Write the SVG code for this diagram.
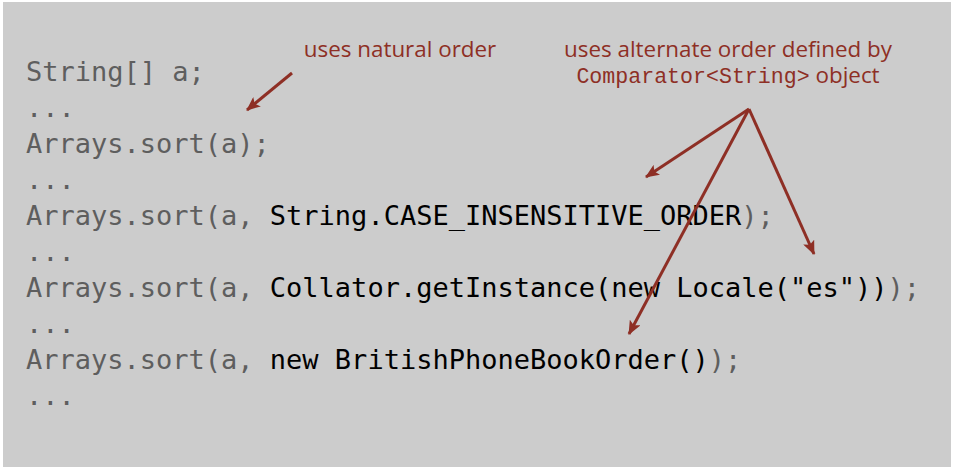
<svg xmlns="http://www.w3.org/2000/svg" width="953" height="470" viewBox="0 0 953 470">
<style>
.code{font-family:"DejaVu Sans Mono","Liberation Mono",monospace;font-size:27px;fill:#5e5e5e}
.k{fill:#000}
.note{font-family:"Open Sans","DejaVu Sans",sans-serif;font-size:22.4px;fill:#8e2f25}
.notem{font-family:"Liberation Mono","DejaVu Sans Mono",monospace;font-size:21.6px;fill:#8e2f25}
.arr{stroke:#8e2f25;stroke-width:3;fill:none;marker-end:url(#ah)}
</style>
<defs>
<marker id="ah" markerWidth="14" markerHeight="12" viewBox="0 0 14 12" refX="13" refY="6" orient="auto" markerUnits="userSpaceOnUse">
<path d="M0,0 L14,6 L0,12 L3,6 Z" fill="#8e2f25"/>
</marker>
</defs>
<rect x="0" y="0" width="953" height="470" fill="#ffffff"/>
<rect x="3" y="2" width="948" height="465" fill="#cccccc"/>
<g id="code">
<text class="code" x="26" y="81">String[] a;</text>
<text class="code" x="26" y="117">...</text>
<text class="code" x="26" y="153">Arrays.sort(a);</text>
<text class="code" x="26" y="189">...</text>
<text class="code" x="26" y="225">Arrays.sort(a, <tspan class="k">String.CASE_INSENSITIVE_ORDER</tspan>);</text>
<text class="code" x="26" y="261">...</text>
<text class="code" x="26" y="297">Arrays.sort(a, <tspan class="k">Collator.getInstance(new Locale("es"))</tspan>);</text>
<text class="code" x="26" y="333">...</text>
<text class="code" x="26" y="369">Arrays.sort(a, <tspan class="k">new BritishPhoneBookOrder()</tspan>);</text>
<text class="code" x="26" y="405">...</text>
</g>
<g id="note-natural">
<text class="note" x="400" y="57" text-anchor="middle">uses natural order</text>
</g>
<g id="note-alternate">
<text class="note" x="728" y="57" text-anchor="middle">uses alternate order defined by</text>
<text x="728" y="83" text-anchor="middle"><tspan class="notem">Comparator&lt;String&gt;</tspan><tspan class="note"> object</tspan></text>
</g>
<g id="connectors">
<line class="arr" x1="292" y1="73" x2="247" y2="110"/>
<line class="arr" x1="749" y1="109" x2="646" y2="177"/>
<line class="arr" x1="749" y1="109" x2="629" y2="334"/>
<line class="arr" x1="749" y1="109" x2="814" y2="254"/>
</g>
</svg>
